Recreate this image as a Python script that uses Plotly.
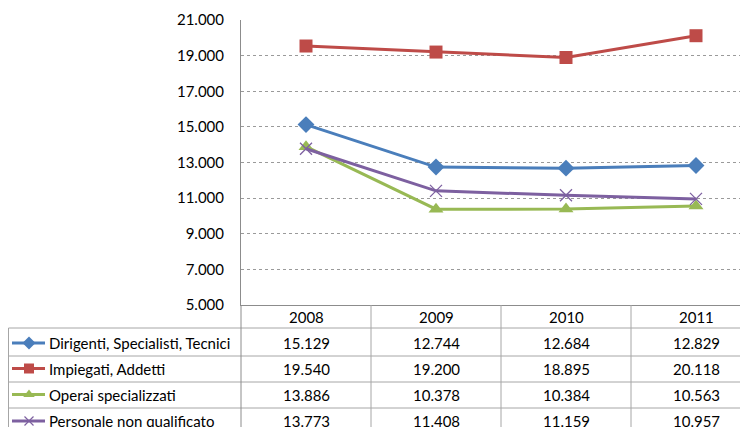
import plotly.graph_objects as go

years = ["2008", "2009", "2010", "2011"]
series_names = [
    "Dirigenti, Specialisti, Tecnici",
    "Impiegati, Addetti",
    "Operai specializzati",
    "Personale non qualificato",
]
dirigenti = [15129, 12744, 12684, 12829]
impiegati = [19540, 19200, 18895, 20118]
operai = [13886, 10378, 10384, 10563]
personale = [13773, 11408, 11159, 10957]
values = [dirigenti, impiegati, operai, personale]

y_tickvals = [5000, 7000, 9000, 11000, 13000, 15000, 17000, 19000, 21000]
y_ticktext = ["5.000", "7.000", "9.000", "11.000", "13.000", "15.000", "17.000", "19.000", "21.000"]

colors = ["#4A7EBB", "#BE4B48", "#98B954", "#7D60A0"]
symbols = ["diamond", "square", "triangle-up", "x-thin"]
msizes = [13, 13, 13, 12]

# page is shown with an 8px body margin; figure sized to fill the rest
M = 8
PW, PH = 748, 427
W, H = PW - M, PH - M
FONT = "Lato"
FS = 15


def px(x):
    return x - M


def py(y):
    return y - M


def fmt(v):
    return f"{v:,}".replace(",", ".")


fig = go.Figure()

xcat = list(range(len(years)))
for name, vals, c, s, ms in zip(series_names, values, colors, symbols, msizes):
    marker = dict(symbol=s, size=ms, color=c)
    if s == "x-thin":
        marker["line"] = dict(color=c, width=1.3)
    fig.add_trace(go.Scatter(
        x=xcat, y=vals, name=name, mode="lines+markers",
        line=dict(color=c, width=3), marker=marker,
        xaxis="x", yaxis="y", showlegend=False, hoverinfo="skip",
    ))

# pixel-space overlay for the data table
row_centers = [py(343), py(368.5), py(394.5), py(421)]
for i, (c, s, ms) in enumerate(zip(colors, symbols, msizes)):
    marker = dict(symbol=s, size=ms - 3, color=c)
    if s == "x-thin":
        marker["line"] = dict(color=c, width=1.2)
    fig.add_trace(go.Scatter(
        x=[px(12), px(45)], y=[row_centers[i], row_centers[i]], mode="lines",
        line=dict(color=c, width=3), xaxis="x2", yaxis="y2",
        showlegend=False, hoverinfo="skip",
    ))
    fig.add_trace(go.Scatter(
        x=[px(29)], y=[row_centers[i]], mode="markers", marker=marker,
        xaxis="x2", yaxis="y2", showlegend=False, hoverinfo="skip",
    ))

shapes = []
lc = "#A6A6A6"
for yy in [328, 356, 382, 408]:
    shapes.append(dict(type="line", xref="x2", yref="y2", x0=0.5, x1=W, y0=py(yy), y1=py(yy),
                       line=dict(color=lc, width=1)))
shapes.append(dict(type="line", xref="x2", yref="y2", x0=0.5, x1=0.5, y0=py(328), y1=H,
                   line=dict(color=lc, width=1)))
shapes.append(dict(type="line", xref="x2", yref="y2", x0=px(241), x1=px(241), y0=py(305), y1=H,
                   line=dict(color="#8C8C8C", width=1)))
for k in range(1, len(years)):
    shapes.append(dict(type="line", xref="x", yref="y2", x0=k - 0.5, x1=k - 0.5,
                       y0=py(305), y1=H, line=dict(color=lc, width=1)))

annotations = []
for j, yr in enumerate(years):
    annotations.append(dict(xref="x", yref="y2", x=j, y=py(317), text=yr, showarrow=False,
                            xanchor="center", yanchor="middle",
                            font=dict(family=FONT, size=FS, color="#000")))
for i, (name, vals) in enumerate(zip(series_names, values)):
    annotations.append(dict(xref="x2", yref="y2", x=px(47), y=row_centers[i], text=name,
                            showarrow=False, xanchor="left", yanchor="middle",
                            font=dict(family=FONT, size=FS, color="#000")))
    for j, v in enumerate(vals):
        annotations.append(dict(xref="x", yref="y2", x=j, y=row_centers[i], text=fmt(v),
                                showarrow=False, xanchor="center", yanchor="middle",
                                font=dict(family=FONT, size=FS, color="#000")))

fig.update_layout(
    template="none",
    width=W, height=H, autosize=False,
    margin=dict(l=0, r=0, t=0, b=0, pad=0),
    paper_bgcolor="white", plot_bgcolor="rgba(0,0,0,0)",
    font=dict(family=FONT, size=FS, color="#000"),
    showlegend=False,
    xaxis=dict(domain=[px(241) / W, 1], range=[-0.5, 3.4], showgrid=False, zeroline=False,
               showticklabels=False, ticks="", showline=True, linecolor="#8C8C8C",
               linewidth=1, anchor="y", fixedrange=True, automargin=False),
    yaxis=dict(domain=[(H - py(305)) / H, (H - py(20)) / H], range=[5000, 21000],
               tickvals=y_tickvals, ticktext=y_ticktext, showgrid=True,
               gridcolor="#9A9A9A", griddash="dot", gridwidth=1, zeroline=False,
               showline=True, linecolor="#8C8C8C", linewidth=1, ticks="",
               ticklabelstandoff=13, anchor="x", fixedrange=True, automargin=False,
               tickfont=dict(family=FONT, size=FS, color="#000")),
    xaxis2=dict(domain=[0, 1], range=[0, W], visible=False, anchor="y2",
                fixedrange=True, automargin=False),
    yaxis2=dict(domain=[0, 1], range=[H, 0], visible=False, anchor="x2",
                fixedrange=True, automargin=False),
    shapes=shapes, annotations=annotations,
)

fig.write_html("out.html")
